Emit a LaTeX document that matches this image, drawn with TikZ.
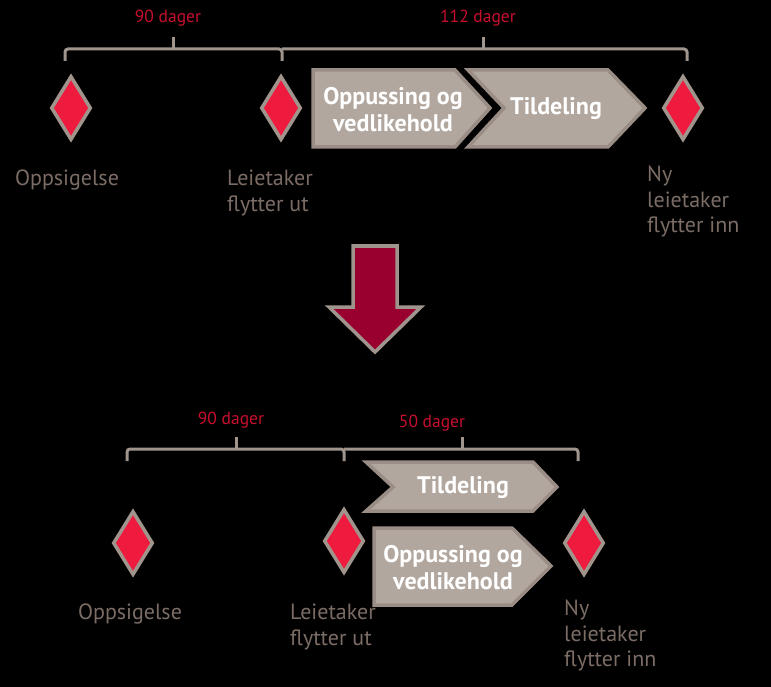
\documentclass[tikz,border=0pt]{standalone}
\usepackage{fontspec}
\setmainfont{PT Sans}
\usetikzlibrary{shapes.geometric}
\definecolor{bg}{HTML}{000000}
\definecolor{gline}{HTML}{A0958D}
\definecolor{chfill}{HTML}{B2A79F}
\definecolor{chedge}{HTML}{9A8D85}
\definecolor{dfill}{HTML}{EE1B3F}
\definecolor{lbl}{HTML}{7B6D65}
\definecolor{red}{HTML}{C8102E}
\definecolor{arr}{HTML}{990030}
\tikzset{
  gem/.style={diamond, draw=gline, fill=dfill, line width=3.5pt, inner sep=0pt, minimum width=40pt, minimum height=64pt},
  brace/.style={draw=gline, line width=3pt, rounded corners=3pt},
  lab/.style={text=lbl, font=\fontsize{22}{25.5}\selectfont, align=left, inner sep=0pt},
  days/.style={text=red, font=\fontsize{17.5}{20}\selectfont, inner sep=0pt},
  chev/.style={fill=chfill, draw=chedge, line width=3.5pt, line join=miter},
  chtxt/.style={text=white, font=\bfseries\fontsize{24}{27}\selectfont, align=center, inner sep=0pt},
}
\begin{document}
\begin{tikzpicture}[x=1pt,y=-1pt]
\fill[bg] (0,0) rectangle (771,687);
\useasboundingbox (0,0) rectangle (771,687);

% ---------- top ----------
\coordinate (b1l) at (65,61);
\coordinate (b1t) at (173,37);
\coordinate (b1m) at (282,61);
\coordinate (b2t) at (483,37);
\coordinate (b2r) at (687,61);
\draw[brace] (b1l) |- (282,49) -- (b1m);
\draw[brace] (282,49) -| (b2r);
\draw[brace] (b1t) -- (173,49);
\draw[brace] (b2t) -- (483,49);
\node[days] (d90a) at (168,18) {90 dager};
\node[days] (d112) at (478,18) {112 dager};

\node[gem] (g1) at (71,108) {};
\node[gem] (g2) at (281,108) {};
\node[gem] (g3) at (683,108) {};

\node[lab, anchor=north] (l1) at (67,170) {Oppsigelse};
\node[lab, anchor=north west] (l2) at (227,170) {Leietaker\\flytter ut};
\node[lab, anchor=north west] (l3) at (647,166) {Ny\\leietaker\\flytter inn};

\draw[chev] (313,70) -- (455,70) -- (490,108) -- (455,147) -- (313,147) -- cycle;
\node[chtxt] (c1) at (393,110) {Oppussing og\\vedlikehold};
\draw[chev] (468,70) -- (608,70) -- (645,108) -- (608,147) -- (468,147) -- (504,108) -- cycle;
\node[chtxt] (c2) at (556,109) {Tildeling};

% ---------- down arrow ----------
\draw[fill=arr, draw=gline, line width=3.5pt, line join=miter]
  (353,246) -- (397,246) -- (397,307) -- (421,307) -- (375,352) -- (329,307) -- (353,307) -- cycle;

% ---------- bottom ----------
\coordinate (c1l) at (127,461);
\coordinate (c1t) at (236,437);
\coordinate (c1m) at (344,461);
\coordinate (c2t) at (462,437);
\coordinate (c2r) at (578,461);
\draw[brace] (c1l) |- (344,449) -- (c1m);
\draw[brace] (344,449) -| (c2r);
\draw[brace] (c1t) -- (236,449);
\draw[brace] (c2t) -- (462,449);
\node[days] (e90) at (231,420) {90 dager};
\node[days] (e50) at (432,423) {50 dager};

\node[gem] (h1) at (133,543) {};
\node[gem] (h2) at (344,541) {};
\node[gem] (h3) at (584,543) {};

\node[lab, anchor=north] (m1) at (130,604) {Oppsigelse};
\node[lab, anchor=north west] (m2) at (290,604) {Leietaker\\flytter ut};
\node[lab, anchor=north west] (m3) at (564,600) {Ny\\leietaker\\flytter inn};

\draw[chev] (366,462) -- (533,462) -- (557,487) -- (533,511) -- (366,511) -- (393,487) -- cycle;
\node[chtxt] (t2) at (463,488) {Tildeling};
\draw[chev] (374,528) -- (512,528) -- (551,566) -- (512,605) -- (374,605) -- cycle;
\node[chtxt] (o2) at (453,568) {Oppussing og\\vedlikehold};
\end{tikzpicture}
\end{document}
